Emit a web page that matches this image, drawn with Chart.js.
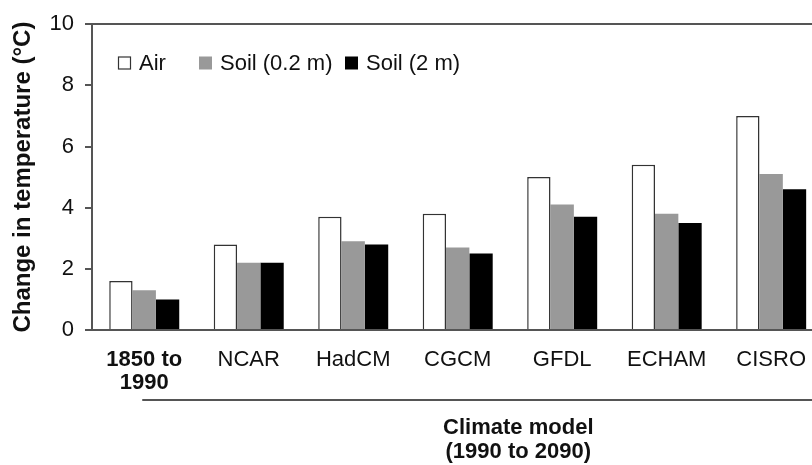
<!DOCTYPE html>
<html>
<head>
<meta charset="utf-8">
<script src="https://cdn.jsdelivr.net/npm/chart.js@4/dist/chart.umd.min.js"></script>
<style>
  html, body { margin: 0; padding: 0; background: #fff; overflow: hidden; }
  #wrap { width: 824px; height: 465px; }
</style>
</head>
<body>
<div id="wrap"><canvas id="c" width="824" height="465"></canvas></div>
<script>
// Warming per period / climate model
const categories = [['1850 to', '1990'], 'NCAR', 'HadCM', 'CGCM', 'GFDL', 'ECHAM', 'CISRO'];
const airValues = [1.6, 2.8, 3.7, 3.8, 5.0, 5.4, 7.0];
const soilShallowValues = [1.3, 2.2, 2.9, 2.7, 4.1, 3.8, 5.1];
const soilDeepValues = [1.0, 2.2, 2.8, 2.5, 3.7, 3.5, 4.6];
const yTicks = [0, 2, 4, 6, 8, 10];
const seriesNames = ['Air', 'Soil (0.2 m)', 'Soil (2 m)'];
const groupTitle = ['Climate model', '(1990 to 2090)'];

const FONT = "'Liberation Sans', Arial, sans-serif";
const AXIS = '#555';
const TEXT = '#111';

// one-row key drawn inside the plot, top left
const legendOffsets = [26, 107, 253];
const insideLegend = {
  id: 'insideLegend',
  afterDraw(chart) {
    const { ctx, chartArea } = chart;
    const cy = 63;
    ctx.save();
    ctx.font = "22px " + FONT;
    ctx.textBaseline = 'middle';
    ctx.textAlign = 'left';
    chart.data.datasets.forEach((ds, i) => {
      const bx = chartArea.left + legendOffsets[i];
      ctx.fillStyle = ds.backgroundColor;
      ctx.fillRect(bx, cy - 6.5, 13, 13);
      if (ds.borderWidth) {
        ctx.strokeStyle = ds.borderColor;
        ctx.lineWidth = 1.2;
        ctx.strokeRect(bx + 0.5, cy - 6, 12, 12);
      }
      ctx.fillStyle = TEXT;
      ctx.fillText(ds.label, bx + 21, cy + 1);
    });
    ctx.restore();
  }
};

// bracket line under the model names plus the group caption
const groupCaption = {
  id: 'groupCaption',
  afterDraw(chart) {
    const { ctx, scales: { x } } = chart;
    ctx.save();
    ctx.strokeStyle = AXIS;
    ctx.lineWidth = 2;
    const lineY = 400;
    ctx.beginPath();
    ctx.moveTo(x.getPixelForValue(0) - 2, lineY);
    ctx.lineTo(chart.width, lineY);
    ctx.stroke();
    ctx.fillStyle = TEXT;
    ctx.font = "bold 22px " + FONT;
    ctx.textAlign = 'center';
    ctx.textBaseline = 'middle';
    const cx = x.getPixelForValue(3.58);
    ctx.fillText(groupTitle[0], cx, 428);
    ctx.fillText(groupTitle[1], cx, 452);
    ctx.restore();
  }
};

new Chart(document.getElementById('c'), {
  type: 'bar',
  data: {
    labels: categories,
    datasets: [
      { label: seriesNames[0], data: airValues, backgroundColor: '#ffffff', borderColor: '#333', borderWidth: 1.5, borderSkipped: 'bottom' },
      { label: seriesNames[1], data: soilShallowValues, backgroundColor: '#999999', borderWidth: 0 },
      { label: seriesNames[2], data: soilDeepValues, backgroundColor: '#000000', borderWidth: 0 }
    ]
  },
  options: {
    responsive: false,
    animation: false,
    devicePixelRatio: 1,
    layout: { padding: { top: 21, right: 0, left: 0, bottom: 0 } },
    datasets: { bar: { categoryPercentage: 0.67, barPercentage: 1.0 } },
    plugins: {
      tooltip: { enabled: false },
      legend: { display: false }
    },
    scales: {
      x: {
        border: { display: true, color: AXIS, width: 2 },
        grid: { display: false, drawTicks: false },
        ticks: {
          color: TEXT,
          padding: 18,
          maxRotation: 0,
          autoSkip: false,
          font: (c) => ({ family: FONT, size: 22, weight: c.index === 0 ? 'bold' : 'normal', lineHeight: 1.05 })
        },
        afterFit(scale) { scale.height = 135; }
      },
      y: {
        min: 0,
        max: 10,
        afterBuildTicks(scale) { scale.ticks = yTicks.map(v => ({ value: v })); },
        border: { display: true, color: AXIS, width: 2 },
        grid: {
          color: (c) => (c.tick && c.tick.value === 10 ? AXIS : 'rgba(0,0,0,0)'),
          lineWidth: 2,
          tickColor: AXIS,
          tickLength: 7,
          drawTicks: true
        },
        ticks: {
          color: TEXT,
          padding: 11,
          font: { family: FONT, size: 22 }
        },
        title: {
          display: true,
          text: 'Change in temperature (°C)',
          color: TEXT,
          font: { family: FONT, size: 24, weight: 'bold' },
          padding: { top: 9, bottom: 0 }
        },
        afterFit(scale) { scale.width = 92; }
      }
    }
  },
  plugins: [insideLegend, groupCaption]
});
</script>
</body>
</html>
